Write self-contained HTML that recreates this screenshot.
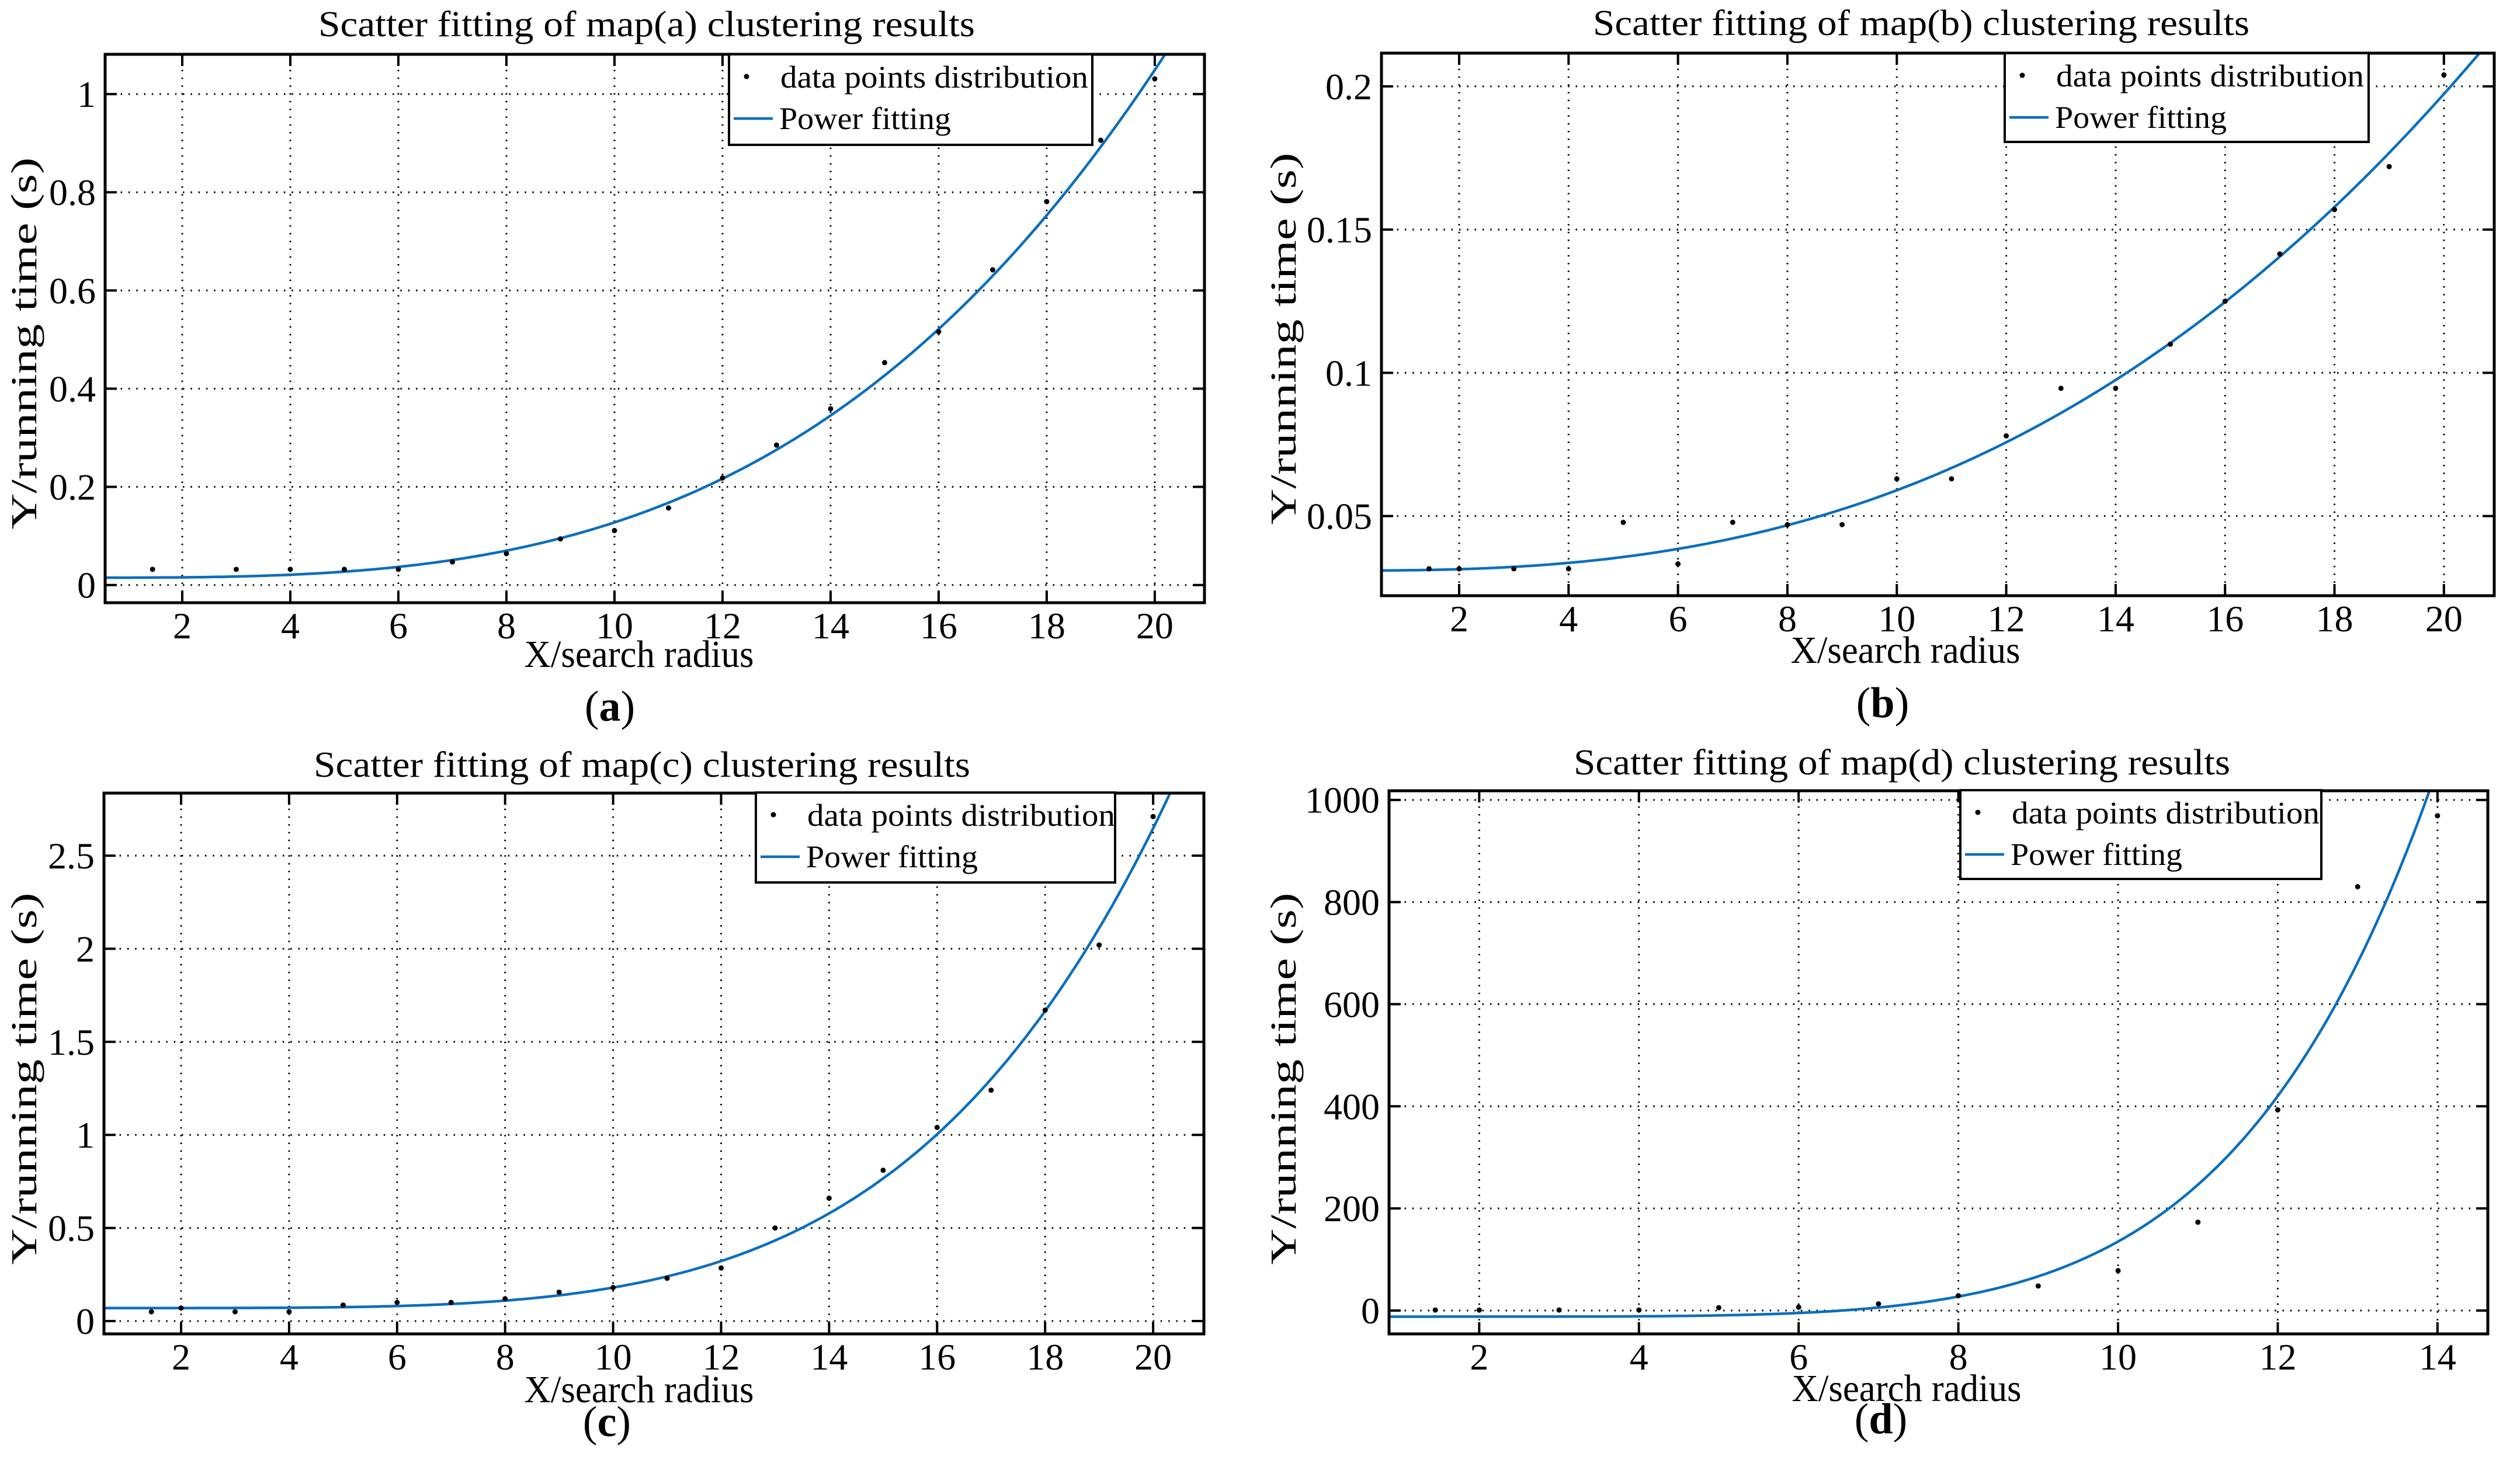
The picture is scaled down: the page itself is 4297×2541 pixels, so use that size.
<!DOCTYPE html>
<html><head><meta charset="utf-8"><style>
html,body{margin:0;padding:0;background:#fff;}
svg{display:block;font-family:"Liberation Serif",serif;}
</style></head>
<body>
<svg id="fig" width="4297" height="2541" viewBox="0 0 4297 2541" xmlns="http://www.w3.org/2000/svg"></svg>
<script>
// ---- data ----
const aX = [1.45,3,4,5,6,7,8,9,10,11,12,13,14,15,16,17,18,19,20];
const aY = [0.032,0.032,0.032,0.032,0.032,0.047,0.064,0.094,0.111,0.157,0.218,0.285,0.359,0.453,0.516,0.642,0.781,0.906,1.031];
const bX = [1.45,2,3,4,5,6,7,8,9,10,11,12,13,14,15,16,17,18,19,20];
const bY = [0.0316,0.0316,0.0316,0.0316,0.0478,0.0333,0.0478,0.047,0.047,0.063,0.063,0.078,0.0946,0.0946,0.110,0.125,0.1415,0.157,0.172,0.204];
const cX = [1.45,2,3,4,5,6,7,8,9,10,11,12,13,14,15,16,17,18,19,20];
const cY = [0.05,0.07,0.05,0.05,0.086,0.10,0.10,0.12,0.155,0.18,0.23,0.285,0.50,0.66,0.81,1.04,1.24,1.67,2.02,2.71];
const dX = [1.45,2,3,4,5,6,7,8,9,10,11,12,13,14];
const dY = [1,1,1,1,5.6,6.5,13,29,48,78,173,393,830,969];
// power fit parameters y = a*x^b + c
const aFit = [7.1e-5,3.2,0.015];
const bFit = [7.54e-5,2.57,0.031];
const cFit = [3.1e-6,4.55,0.07];
const dFit = [1.81e-4,5.91,-12];
// tick values & labels
const xTicks20 = [2,4,6,8,10,12,14,16,18,20];
const xTicks14 = [2,4,6,8,10,12,14];
const aYTicks = [0,0.2,0.4,0.6,0.8,1];
const aYLabels = ["0","0.2","0.4","0.6","0.8","1"];
const bYTicks = [0.05,0.1,0.15,0.2];
const bYLabels = ["0.05","0.1","0.15","0.2"];
const cYTicks = [0,0.5,1,1.5,2,2.5];
const cYLabels = ["0","0.5","1","1.5","2","2.5"];
const dYTicks = [0,200,400,600,800,1000];
const dYLabels = ["0","200","400","600","800","1000"];

const NS="http://www.w3.org/2000/svg";
const svg=document.getElementById('fig');
function mk(tag,attrs,parent){const e=document.createElementNS(NS,tag);for(const k in attrs)e.setAttribute(k,attrs[k]);(parent||svg).appendChild(e);return e;}

const panels=[
 {id:'a',L:180,R:2062,T:93,B:1032,x0:0.573,x1:20.92,y0:-0.036,y1:1.081,xs:aX,ys:aY,fit:aFit,xt:xTicks20,yt:aYTicks,yl:aYLabels,
  title:"Scatter fitting of map(a) clustering results",tx:1107,ty:62,xlx:1094,xly:1142,ylx:62,yly:588,px:1044,py:1234,lg:[1248,93,1870,248]},
 {id:'b',L:2365,R:4270,T:91,B:1020,x0:0.58,x1:20.92,y0:0.0222,y1:0.2116,xs:bX,ys:bY,fit:bFit,xt:xTicks20,yt:bYTicks,yl:bYLabels,
  title:"Scatter fitting of map(b) clustering results",tx:3289,ty:60,xlx:3262,xly:1135,ylx:2218,yly:580,px:3223,py:1228,lg:[3432,91,4055,243]},
 {id:'c',L:178,R:2061,T:1358,B:2284,x0:0.572,x1:20.94,y0:-0.069,y1:2.836,xs:cX,ys:cY,fit:cFit,xt:xTicks20,yt:cYTicks,yl:cYLabels,
  title:"Scatter fitting of map(c) clustering results",tx:1099,ty:1330,xlx:1094,xly:2401,ylx:62,yly:1847,px:1039,py:2459,lg:[1294,1357,1909,1511]},
 {id:'d',L:2378,R:4259,T:1354,B:2284,x0:0.871,x1:14.63,y0:-45.8,y1:1018,xs:dX,ys:dY,fit:dFit,xt:xTicks14,yt:dYTicks,yl:dYLabels,
  title:"Scatter fitting of map(d) clustering results",tx:3256,ty:1326,xlx:3264,xly:2399,ylx:2218,yly:1847,px:3220,py:2454,lg:[3356,1353,3974,1505]}
];

panels.forEach(p=>{
  const g=mk('g',{});
  
  
  const sx=v=>p.L+(v-p.x0)/(p.x1-p.x0)*(p.R-p.L);
  const sy=v=>p.B-(v-p.y0)/(p.y1-p.y0)*(p.B-p.T);
  const clip=mk('clipPath',{id:'clip'+p.id},g);
  mk('rect',{x:p.L,y:p.T,width:p.R-p.L,height:p.B-p.T},clip);
  // grid
  p.xt.forEach(v=>{
    const l=mk('line',{x1:sx(v),x2:sx(v),y1:p.T,y2:p.B,stroke:'#000','stroke-width':3,'stroke-dasharray':'2.5 10.8'},g);
    
    
  });
  p.yt.forEach(v=>{
    const l=mk('line',{x1:p.L,x2:p.R,y1:sy(v),y2:sy(v),stroke:'#000','stroke-width':3,'stroke-dasharray':'2.5 10.8'},g);
    
    
  });
  // ticks
  p.xt.forEach(v=>{
    mk('line',{x1:sx(v),x2:sx(v),y1:p.B,y2:p.B-20,stroke:'#000','stroke-width':4},g);
    mk('line',{x1:sx(v),x2:sx(v),y1:p.T,y2:p.T+20,stroke:'#000','stroke-width':4},g);
    const t=mk('text',{x:sx(v),y:p.B+61,'font-size':64,'text-anchor':'middle'},g);
    t.textContent=String(v);
    
    
  });
  p.yt.forEach((v,i)=>{
    mk('line',{x1:p.L,x2:p.L+20,y1:sy(v),y2:sy(v),stroke:'#000','stroke-width':4},g);
    mk('line',{x1:p.R,x2:p.R-20,y1:sy(v),y2:sy(v),stroke:'#000','stroke-width':4},g);
    const t=mk('text',{x:p.L-16,y:sy(v)+22,'font-size':64,'text-anchor':'end'},g);
    t.textContent=p.yl[i];
    
    
  });
  // fit curve
  let d='';
  const N=400;
  for(let i=0;i<=N;i++){
    const x=p.x0+(p.x1-p.x0)*i/N;
    const y=p.fit[0]*Math.pow(x,p.fit[1])+p.fit[2];
    d+=(i?'L':'M')+sx(x).toFixed(1)+' '+sy(y).toFixed(1);
  }
  const curve=mk('path',{d:d,fill:'none',stroke:'#0a6ebd','stroke-width':4.5,'clip-path':'url(#clip'+p.id+')'},g);
  
  
  // points
  p.xs.forEach((x,i)=>{
    const c=mk('circle',{cx:sx(x),cy:sy(p.ys[i]),r:4.5,fill:'#000'},g);
    
    
  });
  // axes box
  const box=mk('rect',{x:p.L,y:p.T,width:p.R-p.L,height:p.B-p.T,fill:'none',stroke:'#000','stroke-width':5},g);
  
  
  // legend
  const [lx,ly,rx,ry]=p.lg;
  const lgG=mk('g',{},g);
  
  
  mk('rect',{x:lx,y:ly,width:rx-lx,height:ry-ly,fill:'#fff',stroke:'#000','stroke-width':4},lgG);
  mk('circle',{cx:lx+30,cy:ly+38,r:4.5,fill:'#000'},lgG);
  const t1=mk('text',{x:lx+88,y:ly+57,'font-size':54,textLength:527,lengthAdjust:'spacingAndGlyphs'},lgG);
  t1.textContent='data points distribution';
  
  
  mk('line',{x1:lx+8,x2:lx+75,y1:ly+110,y2:ly+110,stroke:'#0a6ebd','stroke-width':4.5},lgG);
  const t2=mk('text',{x:lx+86,y:ly+128,'font-size':54,textLength:294,lengthAdjust:'spacingAndGlyphs'},lgG);
  t2.textContent='Power fitting';
  
  
  // title
  const ti=mk('text',{x:p.tx,y:p.ty,'font-size':62,'text-anchor':'middle',textLength:1124,lengthAdjust:'spacingAndGlyphs'},g);
  ti.textContent=p.title;
  
  
  // x label
  const xl=mk('text',{x:p.xlx,y:p.xly,'font-size':66,'text-anchor':'middle',textLength:393,lengthAdjust:'spacingAndGlyphs'},g);
  xl.textContent='X/search radius';
  
  
  // y label
  const yl=mk('text',{x:0,y:0,'font-size':62,'text-anchor':'middle',textLength:637,lengthAdjust:'spacingAndGlyphs',transform:'translate('+p.ylx+','+p.yly+') rotate(-90)'},g);
  yl.textContent='Y/running time (s)';
  
  
  // panel letter
  const pl=mk('text',{x:p.px,y:p.py,'font-size':74,'text-anchor':'middle'},g);
  pl.innerHTML='(<tspan font-weight="bold">'+p.id+'</tspan>)';
  
  
});
</script>
</body></html>
